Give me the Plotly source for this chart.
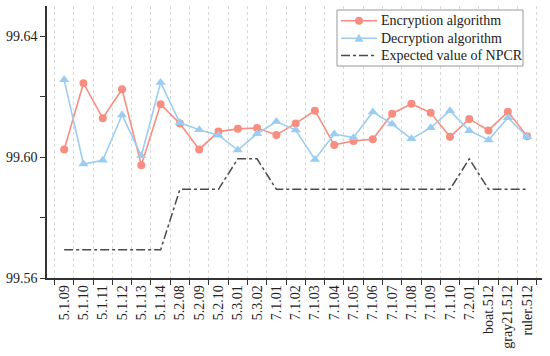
import plotly.graph_objects as go

categories = ["5.1.09", "5.1.10", "5.1.11", "5.1.12", "5.1.13", "5.1.14", "5.2.08", "5.2.09",
              "5.2.10", "5.3.01", "5.3.02", "7.1.01", "7.1.02", "7.1.03", "7.1.04", "7.1.05",
              "7.1.06", "7.1.07", "7.1.08", "7.1.09", "7.1.10", "7.2.01", "boat.512",
              "gray21.512", "ruler.512"]

encryption = [99.6025, 99.6244, 99.6128, 99.6224, 99.5973, 99.6174, 99.6111, 99.6025,
              99.6084, 99.6093, 99.6096, 99.6073, 99.6111, 99.6153, 99.6040, 99.6053,
              99.6059, 99.6143, 99.6176, 99.6146, 99.6067, 99.6126, 99.6088, 99.6150,
              99.6069]

decryption = [99.6255, 99.5977, 99.5989, 99.6139, 99.6004, 99.6246, 99.6113, 99.6090,
              99.6072, 99.6023, 99.6077, 99.6117, 99.6089, 99.5992, 99.6076, 99.6064,
              99.6149, 99.6109, 99.6060, 99.6097, 99.6153, 99.6087, 99.6056, 99.6130,
              99.6067]

expected = [99.5693, 99.5693, 99.5693, 99.5693, 99.5693, 99.5693, 99.5893, 99.5893,
            99.5893, 99.5994, 99.5994, 99.5893, 99.5893, 99.5893, 99.5893, 99.5893,
            99.5893, 99.5893, 99.5893, 99.5893, 99.5893, 99.5994, 99.5893, 99.5893,
            99.5893]

series_names = ["Encryption algorithm", "Decryption algorithm", "Expected value of NPCR"]

y_tickvals = [99.56, 99.60, 99.64]
y_ticktext = ["99.56", "99.60", "99.64"]

RED = "#F98E80"
BLUE = "#9CCDF1"
GREY = "#4a4a4a"
FONT = "Liberation Serif"

W, H = 550, 356
ML, MR, MT, MB = 47, 8, 6, 78
PW = W - ML - MR
PH = H - MT - MB

styles = [
    dict(mode="lines+markers", line=dict(color=RED, width=1.6),
         marker=dict(symbol="circle", size=8, color=RED)),
    dict(mode="lines+markers", line=dict(color=BLUE, width=1.6),
         marker=dict(symbol="triangle-up", size=9, color=BLUE)),
    dict(mode="lines", line=dict(color=GREY, width=1.5, dash="dashdot")),
]

fig = go.Figure()
for name, vals, st in zip(series_names, [encryption, decryption, expected], styles):
    fig.add_trace(go.Scatter(x=categories, y=vals, name=name, showlegend=False, **st))

# legend box drawn on an overlay axis measured in figure pixels (y downwards)
box_x0, box_x1, box_y0, box_y1 = 337, 523, 10, 66
row_y = [20.7, 38.3, 55.5]
samp_x0, samp_x1 = 341, 377
mark_x = 359
text_x = 379

fig.add_shape(type="rect", xref="x2", yref="y2", x0=box_x0, x1=box_x1, y0=box_y0, y1=box_y1,
              line=dict(color="#999999", width=1), fillcolor="white", layer="above")
for name, ry, st in zip(series_names, row_y, styles):
    ln = st["line"]
    fig.add_shape(type="line", xref="x2", yref="y2", x0=samp_x0, x1=samp_x1, y0=ry, y1=ry,
                  line=dict(color=ln["color"], width=ln["width"], dash=ln.get("dash", "solid")),
                  layer="above")
    if "marker" in st:
        mk = st["marker"]
        if mk["symbol"] == "circle":
            fig.add_shape(type="circle", xref="x2", yref="y2",
                          x0=mark_x - 4, x1=mark_x + 4, y0=ry - 4, y1=ry + 4,
                          fillcolor=mk["color"], line=dict(color=mk["color"], width=0),
                          layer="above")
        else:
            fig.add_shape(type="path", xref="x2", yref="y2",
                          path=f"M {mark_x - 4.5},{ry + 3.5} L {mark_x + 4.5},{ry + 3.5} L {mark_x},{ry - 4.5} Z",
                          fillcolor=mk["color"], line=dict(color=mk["color"], width=0),
                          layer="above")
    fig.add_annotation(x=text_x, y=ry, xref="x2", yref="y2", text=name, showarrow=False,
                       xanchor="left", yanchor="middle",
                       font=dict(family=FONT, size=14, color="#222222"))

fig.update_layout(
    width=W, height=H,
    margin=dict(l=ML, r=MR, t=MT, b=MB),
    paper_bgcolor="white", plot_bgcolor="white",
    font=dict(family=FONT, size=14, color="#222222"),
    showlegend=False,
    xaxis2=dict(overlaying="x", range=[ML, W - MR], visible=False, fixedrange=True),
    yaxis2=dict(overlaying="y", range=[H - MB, MT], visible=False, fixedrange=True),
)

fig.layout.xaxis.update(
    type="category", categoryorder="array", categoryarray=categories,
    range=[-0.89, 24.77], automargin=False,
    tickson="boundaries", ticks="outside", ticklen=5, tickcolor="#333333",
    tickangle=-90, tickfont=dict(family=FONT, size=14, color="#222222"),
    showline=True, linecolor="#333333", linewidth=1.5,
    showgrid=True, gridcolor="#d9d9d9", griddash="dot", gridwidth=1,
    zeroline=False, mirror=False,
)

fig.layout.yaxis.update(
    range=[99.56, 99.56 + PH / 3025.0], automargin=False,
    tickmode="array", tickvals=y_tickvals, ticktext=y_ticktext,
    ticks="outside", ticklen=5, tickcolor="#333333",
    tickfont=dict(family=FONT, size=14, color="#222222"),
    minor=dict(dtick=0.02, tick0=99.56, ticks="outside", ticklen=5, tickcolor="#333333", showgrid=False),
    showline=True, linecolor="#333333", linewidth=1.5,
    showgrid=False, zeroline=False,
)

fig.write_html("out.html", config={"displayModeBar": False},
               post_script="document.body.style.margin='0';")
